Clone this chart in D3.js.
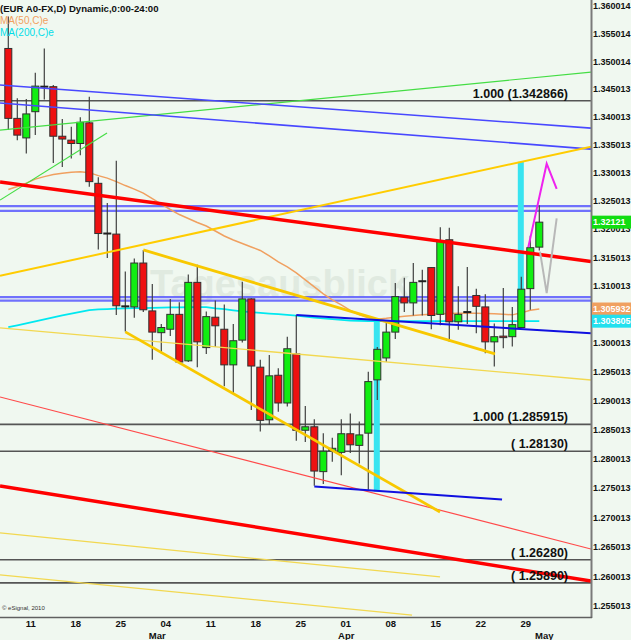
<!DOCTYPE html>
<html>
<head>
<meta charset="utf-8">
<script src="https://cdn.jsdelivr.net/npm/d3@7"></script>
<style>
  body { margin: 0; background: #f0f8f0; }
  svg { display: block; font-family: "Liberation Sans", Arial, sans-serif; }
</style>
</head>
<body>
<svg id="chart" width="631" height="640"></svg>
<script>
// daily candles, EUR A0-FX (Feb 7 - May 1)
var dates = ['2013-02-07','2013-02-08','2013-02-11','2013-02-12','2013-02-13','2013-02-14','2013-02-15','2013-02-18','2013-02-19','2013-02-20',
  '2013-02-21','2013-02-22','2013-02-25','2013-02-26','2013-02-27','2013-02-28','2013-03-01','2013-03-04','2013-03-05','2013-03-06',
  '2013-03-07','2013-03-08','2013-03-11','2013-03-12','2013-03-13','2013-03-14','2013-03-15','2013-03-18','2013-03-19','2013-03-20',
  '2013-03-21','2013-03-22','2013-03-25','2013-03-26','2013-03-27','2013-03-28','2013-03-29','2013-04-01','2013-04-02','2013-04-03',
  '2013-04-04','2013-04-05','2013-04-08','2013-04-09','2013-04-10','2013-04-11','2013-04-12','2013-04-15','2013-04-16','2013-04-17',
  '2013-04-18','2013-04-19','2013-04-22','2013-04-23','2013-04-24','2013-04-25','2013-04-26','2013-04-29','2013-04-30','2013-05-01'];

var open = [1.3523,1.3397,1.3362,1.3409,1.3454,1.3454,1.3365,1.3358,1.3352,1.3389,
  1.3281,1.3192,1.3191,1.3064,1.3063,1.3140,1.3056,1.3018,1.3024,1.3050,
  1.2969,1.3106,1.2992,1.3045,1.3024,1.2962,1.3005,1.3077,1.2958,1.2867,
  1.2944,1.2896,1.2981,1.2849,1.2855,1.2778,1.2814,1.2811,1.2843,1.2823,
  1.2844,1.2936,1.2974,1.3019,1.3080,1.3070,1.3108,1.3132,1.3050,1.3181,
  1.3037,1.3054,1.3083,1.3063,1.3002,1.3012,1.3011,1.3027,1.3095,1.3168];
var high = [1.3581,1.3433,1.3432,1.3479,1.3523,1.3457,1.3396,1.3382,1.3399,1.3436,
  1.3292,1.3246,1.3321,1.3125,1.3148,1.3163,1.3103,1.3033,1.3077,1.3071,
  1.3120,1.3137,1.3055,1.3074,1.3067,1.3033,1.3107,1.3078,1.2971,1.2979,
  1.2956,1.3011,1.3049,1.2891,1.2868,1.2844,1.2836,1.2868,1.2878,1.2864,
  1.2950,1.2993,1.3039,1.3105,1.3114,1.3140,1.3128,1.3133,1.3203,1.3202,
  1.3099,1.3133,1.3095,1.3085,1.3034,1.3096,1.3063,1.3116,1.3188,1.3242];
var low = [1.3376,1.3358,1.3334,1.3367,1.3431,1.3317,1.3310,1.3325,1.3331,1.3275,
  1.3164,1.3149,1.3049,1.3020,1.3044,1.3054,1.2971,1.2982,1.3012,1.2965,
  1.2967,1.2958,1.2981,1.2993,1.2925,1.2912,1.3001,1.2884,1.2847,1.2858,
  1.2881,1.2890,1.2831,1.2829,1.2754,1.2757,1.2795,1.2772,1.2810,1.2792,
  1.2747,1.2901,1.2967,1.3007,1.3054,1.3048,1.3048,1.3024,1.3031,1.3002,
  1.3023,1.3033,1.3017,1.2982,1.2959,1.2991,1.2994,1.3026,1.3058,1.3162];
var close = [1.3397,1.3367,1.3405,1.3455,1.3454,1.3365,1.3360,1.3352,1.3390,1.3284,
  1.3192,1.3192,1.3065,1.3064,1.3140,1.3058,1.3019,1.3027,1.3050,1.2967,
  1.3106,1.3002,1.3046,1.3030,1.2962,1.3004,1.3077,1.2960,1.2866,1.2943,
  1.2896,1.2990,1.2849,1.2855,1.2779,1.2813,1.2818,1.2843,1.2824,1.2841,
  1.2933,1.2989,1.3019,1.3081,1.3070,1.3106,1.3108,1.3048,1.3179,1.3037,
  1.3050,1.3054,1.3064,1.3002,1.3011,1.3011,1.3032,1.3094,1.3167,1.32121];

var ma50 = [1.32699,1.32752,1.32814,1.32885,1.32929,1.32965,1.32991,1.33009,1.33018,1.33000,
  1.32947,1.32902,1.32840,1.32770,1.32707,1.32637,1.32539,1.32442,1.32345,1.32256,
  1.32186,1.32115,1.32053,1.31965,1.31877,1.31806,1.31745,1.31683,1.31621,1.31525,
  1.31419,1.31332,1.31226,1.31103,1.30981,1.30858,1.30753,1.30666,1.30570,1.30491,
  1.30439,1.30416,1.30430,1.30448,1.30465,1.30479,1.30491,1.30500,1.30509,1.30514,
  1.30519,1.30521,1.30519,1.30514,1.30509,1.30500,1.30491,1.30526,1.30570,1.305932];
var ma200 = [1.30276,1.30309,1.30344,1.30378,1.30413,1.30446,1.30481,1.30514,1.30544,1.30575,
  1.30586,1.30593,1.30600,1.30605,1.30608,1.30610,1.30614,1.30617,1.30621,1.30622,
  1.30624,1.30626,1.30626,1.30605,1.30591,1.30570,1.30552,1.30538,1.30526,1.30514,
  1.30503,1.30491,1.30477,1.30460,1.30444,1.30430,1.30416,1.30404,1.30392,1.30386,
  1.30383,1.30382,1.30382,1.30381,1.30381,1.30381,1.30380,1.30380,1.30380,1.30380,
  1.30380,1.30380,1.30380,1.30380,1.30380,1.30381,1.30381,1.30381,1.30381,1.303805];

// axis labels (1.305013 sits under the MA value boxes and is not shown)
var priceTicks = ['1.255013','1.260013','1.265013','1.270013','1.275013','1.280013','1.285013','1.290013','1.295013','1.300013',
  '1.310013','1.315013','1.320013','1.325013','1.330013','1.335013','1.340013','1.345013','1.350014','1.355014','1.360014'];
var dayTicks = ['2013-02-11','2013-02-18','2013-02-25','2013-03-04','2013-03-11','2013-03-18','2013-03-25','2013-04-01','2013-04-08','2013-04-15','2013-04-22','2013-04-29'];
var monthTicks = ['2013-03-01','2013-04-01','2013-05-01'];

// horizontal levels and their labels
var levels = [1.342866, 1.285915, 1.2813, 1.2628, 1.2589];
var levelLabels = ['1.000 (1.342866)', '1.000 (1.285915)', '( 1.28130)', '( 1.26280)', '( 1.25890)'];
var bandLevels = [1.32406, 1.3232, 1.3080, 1.3074];

// trend lines as [day index, price] pairs
var greenLong = [[-0.92, 1.3376], [64.74, 1.34803]];
var greenShort = [[-0.92, 1.32512], [10.97, 1.33706]];
var blueUpper1 = [[-0.92, 1.34569], [64.74, 1.33796]];
var blueUpper2 = [[-0.92, 1.34245], [64.74, 1.33420]];
var goldRising = [[-0.92, 1.31174], [64.74, 1.33464]];
var redUpper = [[-0.92, 1.32832], [64.74, 1.31428]];
var goldChannelTop = [[15, 1.3163], [54.08, 1.2981]];
var goldChannelBottom = [[13, 1.30194], [47.97, 1.27092]];
var yellowThin1 = [[-0.92, 1.30264], [64.74, 1.29358]];
var yellowThin2 = [[-0.92, 1.26735], [47.97, 1.2599]];
var yellowThin3 = [[-0.92, 1.26024], [44.86, 1.25349]];
var redThin = [[-0.92, 1.29064], [64.74, 1.26463]];
var redLower = [[-0.92, 1.27536], [64.74, 1.25922]];
var blueRight = [[32, 1.3049], [64.74, 1.30168]];
var blueBottom = [[34, 1.27524], [54.86, 1.27306]];
var cyanBars = [[41, 1.3040, 1.27439], [57, 1.33193, 1.30259]];
var magentaPath = [[57.78, 1.3168], [59.82, 1.3316], [60.93, 1.3271]];
var grayPath = [[59.08, 1.3160], [59.82, 1.3087], [60.93, 1.3219]];

var plotW = 591, plotH = 617;
var svg = d3.select('#chart');

var xi = d3.scaleLinear().domain([0, dates.length - 1]).range([8.3, 539.3]);
var y = d3.scaleLog().domain([1.255013, 1.360014]).range([606, 6]);
function xd(s) { return xi(dates.indexOf(s)); }

svg.append('rect').attr('width', 631).attr('height', 640).attr('fill', '#f0f8f0');

svg.append('clipPath').attr('id', 'plotclip')
  .append('rect').attr('width', plotW).attr('height', plotH);

var plot = svg.append('g').attr('clip-path', 'url(#plotclip)');

// watermark
plot.append('text').attr('x', 150).attr('y', 297)
  .style('font-size', '38px').style('font-weight', 'bold')
  .attr('fill', '#e0eae0').text('Tagesausblick');

var line = d3.line().x(function (d) { return xi(d[0]); }).y(function (d) { return y(d[1]); });

// horizontal gray levels
plot.selectAll('.level').data(levels).enter().append('line')
  .attr('x1', 0).attr('x2', plotW)
  .attr('y1', function (d) { return y(d); }).attr('y2', function (d) { return y(d); })
  .attr('stroke', '#555').attr('stroke-width', 1.6);

// blue horizontal bands
plot.selectAll('.band').data(bandLevels).enter().append('line')
  .attr('x1', 0).attr('x2', plotW)
  .attr('y1', function (d) { return y(d); }).attr('y2', function (d) { return y(d); })
  .attr('stroke', '#5a5aff').attr('stroke-width', 2.2).attr('opacity', 0.85);

// cyan range bars
plot.selectAll('.cbar').data(cyanBars).enter().append('rect')
  .attr('x', function (d) { return xi(d[0]) - 3.5; })
  .attr('width', 6)
  .attr('y', function (d) { return y(d[1]); })
  .attr('height', function (d) { return y(d[2]) - y(d[1]); })
  .attr('fill', '#38e4f0');

// moving averages
var maLine = d3.line().x(function (d, i) { return xi(i); }).y(function (d) { return y(d); });
plot.append('path').attr('d', maLine(ma50)).attr('fill', 'none').attr('stroke', '#f0a060').attr('stroke-width', 1.5);
plot.append('path').attr('d', maLine(ma200)).attr('fill', 'none').attr('stroke', '#00e8f0').attr('stroke-width', 1.8);

// candles
var idx = d3.range(dates.length);
plot.selectAll('.wick').data(idx).enter().append('line')
  .attr('x1', function (i) { return xi(i); }).attr('x2', function (i) { return xi(i); })
  .attr('y1', function (i) { return y(high[i]); }).attr('y2', function (i) { return y(low[i]); })
  .attr('stroke', '#404040').attr('stroke-width', 1.2);

plot.selectAll('.body').data(idx.filter(function (i) { return open[i] !== close[i]; })).enter().append('rect')
  .attr('x', function (i) { return xi(i) - 3.5; })
  .attr('width', 7)
  .attr('y', function (i) { return y(Math.max(open[i], close[i])); })
  .attr('height', function (i) { return Math.max(1.5, Math.abs(y(open[i]) - y(close[i]))); })
  .attr('fill', function (i) { return close[i] > open[i] ? '#11ee11' : '#ee1111'; })
  .attr('stroke', '#303030').attr('stroke-width', 1);

plot.selectAll('.doji').data(idx.filter(function (i) { return open[i] === close[i]; })).enter().append('line')
  .attr('x1', function (i) { return xi(i) - 4; }).attr('x2', function (i) { return xi(i) + 4; })
  .attr('y1', function (i) { return y(open[i]); }).attr('y2', function (i) { return y(open[i]); })
  .attr('stroke', '#202020').attr('stroke-width', 2);

// trend lines
function trend(pts, color, width) {
  plot.append('path').attr('d', line(pts)).attr('fill', 'none')
    .attr('stroke', color).attr('stroke-width', width);
}
trend(greenLong, '#44dd44', 1.2);
trend(greenShort, '#44dd44', 1.2);
trend(blueUpper1, '#4848ff', 1.6);
trend(blueUpper2, '#4848ff', 1.6);
trend(yellowThin1, '#f2d850', 1.3);
trend(yellowThin2, '#f2d850', 1.3);
trend(yellowThin3, '#f2d850', 1.3);
trend(redThin, '#ff4a4a', 1.2);
trend(goldRising, '#ffcc00', 2);
trend(goldChannelTop, '#f8c800', 2.8);
trend(goldChannelBottom, '#f8c800', 2.8);
trend(redUpper, '#ff0000', 3.5);
trend(redLower, '#ff0000', 3.5);
trend(blueRight, '#1010e0', 2);
trend(blueBottom, '#1010e0', 2);
trend(grayPath, '#b8b8b8', 2);
trend(magentaPath, '#ee22ee', 2);

// level labels
plot.selectAll('.lvlab').data(levels).enter().append('text')
  .attr('x', 568).attr('y', function (d) { return y(d) - 3; })
  .attr('text-anchor', 'end')
  .style('font-size', '12.5px').style('font-weight', 'bold')
  .attr('fill', '#111')
  .text(function (d, i) { return levelLabels[i]; });

// header
svg.append('text').attr('x', 0).attr('y', 12).style('font-size', '9.6px').style('font-weight', 'bold')
  .attr('fill', '#111').text('(EUR A0-FX,D) Dynamic,0:00-24:00');
svg.append('text').attr('x', 0).attr('y', 24).style('font-size', '10px')
  .attr('fill', '#f0a060').text('MA(50,C)e');
svg.append('text').attr('x', 0).attr('y', 36).style('font-size', '10px')
  .attr('fill', '#00dde8').text('MA(200,C)e');
svg.append('text').attr('x', 2).attr('y', 610).style('font-size', '6px')
  .attr('fill', '#333').text('\u00a9 eSignal, 2010');

// axes
var yAxis = d3.axisRight(y).tickValues(priceTicks.map(Number))
  .tickFormat(function (d, i) { return priceTicks[i]; })
  .tickSize(0).tickPadding(2);
var gy = svg.append('g').attr('transform', 'translate(' + plotW + ',0)').call(yAxis);
gy.select('.domain').remove();
gy.selectAll('text').style('font-size', '9px').style('font-weight', 'bold')
  .style('font-family', '"Liberation Sans", Arial, sans-serif').attr('fill', '#111');

var dayFmt = d3.timeFormat('%d'), monFmt = d3.timeFormat('%b'), parse = d3.timeParse('%Y-%m-%d');
var xAxis = d3.axisBottom(xi).tickValues(dayTicks.map(function (s) { return dates.indexOf(s); }))
  .tickFormat(function (i) { return dayFmt(parse(dates[i])); })
  .tickSize(0).tickPadding(3);
var gx = svg.append('g').attr('transform', 'translate(4,' + plotH + ')').call(xAxis);
gx.select('.domain').remove();
gx.selectAll('text').style('font-size', '9.5px').style('font-weight', 'bold')
  .style('font-family', '"Liberation Sans", Arial, sans-serif').attr('fill', '#111');

svg.selectAll('.month').data(monthTicks).enter().append('text')
  .attr('x', function (d) { return xd(d) + 5; }).attr('y', 638.5)
  .attr('text-anchor', 'middle')
  .style('font-size', '9.5px').style('font-weight', 'bold').attr('fill', '#111')
  .text(function (d) { return monFmt(parse(d)); });

svg.append('line').attr('x1', plotW + 0.5).attr('x2', plotW + 0.5).attr('y1', 0).attr('y2', plotH + 1)
  .attr('stroke', '#7a7a7a').attr('stroke-width', 2);
svg.append('line').attr('x1', 0).attr('x2', plotW + 1).attr('y1', plotH + 0.5).attr('y2', plotH + 0.5)
  .attr('stroke', '#606060').attr('stroke-width', 1.5);

// last-value boxes
var boxes = [[close[close.length - 1], '1.32121', '#11dd11'], [ma50[ma50.length - 1], '1.305932', '#f0a060'], [ma200[ma200.length - 1], '1.303805', '#22e0ee']];
boxes.forEach(function (b) {
  var yy = y(b[0]);
  svg.append('rect').attr('x', 592).attr('y', yy - 6.5).attr('width', 39).attr('height', 13).attr('fill', b[2]);
  svg.append('text').attr('x', 593).attr('y', yy + 3.2).style('font-size', '9px').style('font-weight', 'bold')
    .attr('fill', '#fff').text(b[1]);
});
</script>
</body>
</html>
